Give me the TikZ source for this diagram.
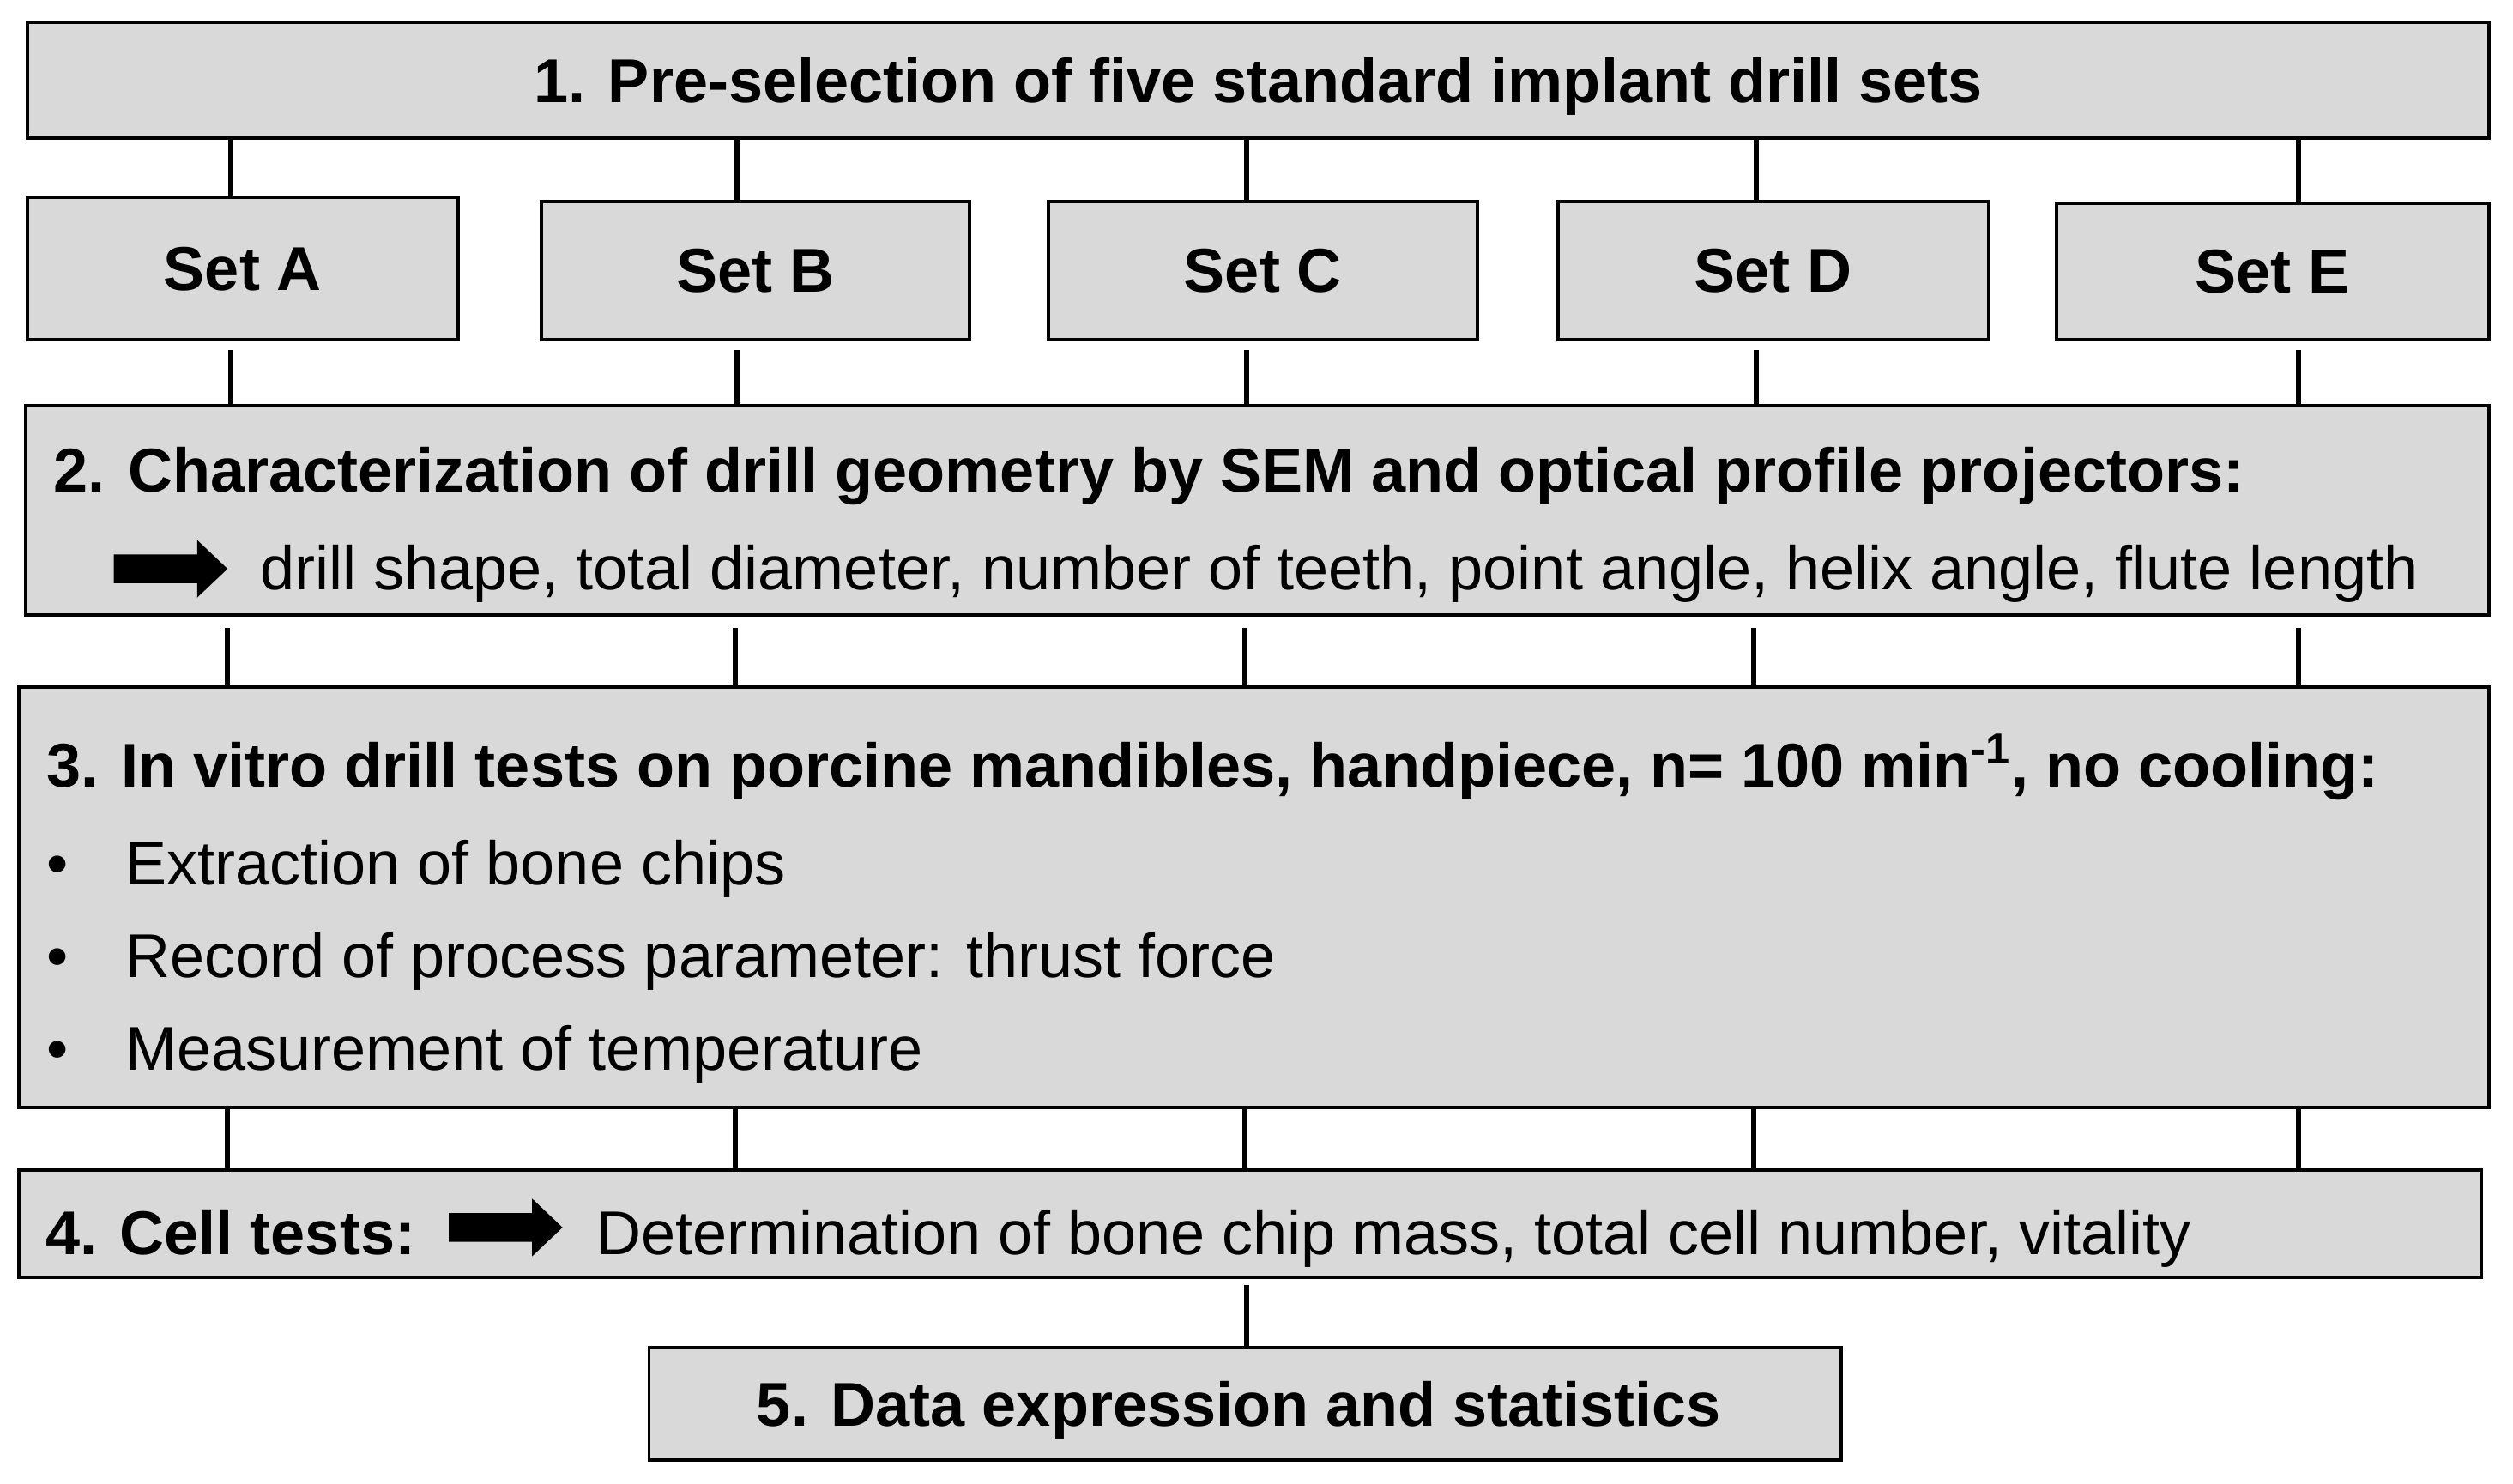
\documentclass[tikz,border=0pt]{standalone}
\usepackage{fontspec}
\setmainfont{Liberation Sans}
\usetikzlibrary{fit,positioning}
\definecolor{boxgray}{RGB}{217,217,217}
\tikzset{
        box/.style = {draw, rectangle, fill=boxgray, line width=1.1pt,
            inner sep=0pt},
        label/.style = {inner sep=0pt, text depth=0pt,
            font=\fontsize{20.5}{25}\selectfont\bfseries},
        link/.style = {draw, line width=1.7pt},
        txt/.style = {inner sep=0pt, anchor=base west,
            font=\fontsize{20.5}{25}\selectfont},
        head/.style = {txt, font=\fontsize{20.5}{25}\selectfont\bfseries},
        fatarrow/.pic = {\fill (0,-9) -- (52,-9) -- (52,-18) -- (71,0)
            -- (52,18) -- (52,9) -- (0,9) -- cycle;},
    }

\begin{document}
\begin{tikzpicture}[x=0.1868mm, y=-0.1868mm]
                \useasboundingbox (0,0) rectangle (1568,926);

                \node[box, fit={(17,14) (1553,86)}] (b1) {};
                \node[label] (t1) at (b1) {1. Pre-selection of five standard implant drill sets};

                \foreach \s/\l/\r/\t in {A/17/286/123, B/338/605/126, C/654/922/126, D/972/1241/126, E/1283/1553/127} {
                    \node[box, fit={(\l,\t) (\r,212)}] (s\s) {};
                    \node[label] (l\s) at (s\s) {Set \s};
                }

                \node[box, fit={(16,253) (1553,384)}] (b2) {};
                \node[head] (t2) at (33,307) {2. Characterization of drill geometry by SEM and optical profile projectors:};
                \pic at (71,355) {fatarrow};
                \node[txt] (t2b) at (162,368) {drill shape, total diameter, number of teeth, point angle, helix angle, flute length};

                \node[box, fit={(12,429) (1553,691)}] (b3) {};
                \node[head] (t3) at (29,491) {3. In vitro drill tests on porcine mandibles, handpiece, n= 100 min\textsuperscript{-1}, no cooling:};
                \foreach \y/\item [count=\i] in {552/Extraction of bone chips, 610/{Record of process parameter: thrust force}, 668/Measurement of temperature} {
                    \node[txt] (bul\i) at (29,\y) {•};
                    \node[txt] (it\i) at (78,\y) {\item};
                }

                \node[box, fit={(12,730) (1548,797)}] (b4) {};
                \node[head] (t4) at (28,783) {4. Cell tests:};
                \pic at (280,766) {fatarrow};
                \node[txt] (t4b) at (372,783) {Determination of bone chip mass, total cell number, vitality};

                \node[box, fit={(405,841) (1149,911)}] (b5) {};
                \node[label, xshift=-0.75mm] (t5) at (b5) {5. Data expression and statistics};

                % connectors
                \foreach \s/\x in {A/144, B/460, C/778, D/1096, E/1434} {
                    \draw[link] (b1.south -| \x,0) -- (s\s.north -| \x,0);
                    \draw[link, shorten <=1mm] (s\s.south -| \x,0) -- (b2.north -| \x,0);
                }
                \foreach \x in {142, 459, 777, 1094, 1434} {
                    \draw[link, shorten <=1.3mm] (b2.south -| \x,0) -- (b3.north -| \x,0);
                    \draw[link] (b3.south -| \x,0) -- (b4.north -| \x,0);
                }
                \draw[link, shorten <=0.7mm] (b4.south -| 778,0) -- (b5.north -| 778,0);
            \end{tikzpicture}
\end{document}
